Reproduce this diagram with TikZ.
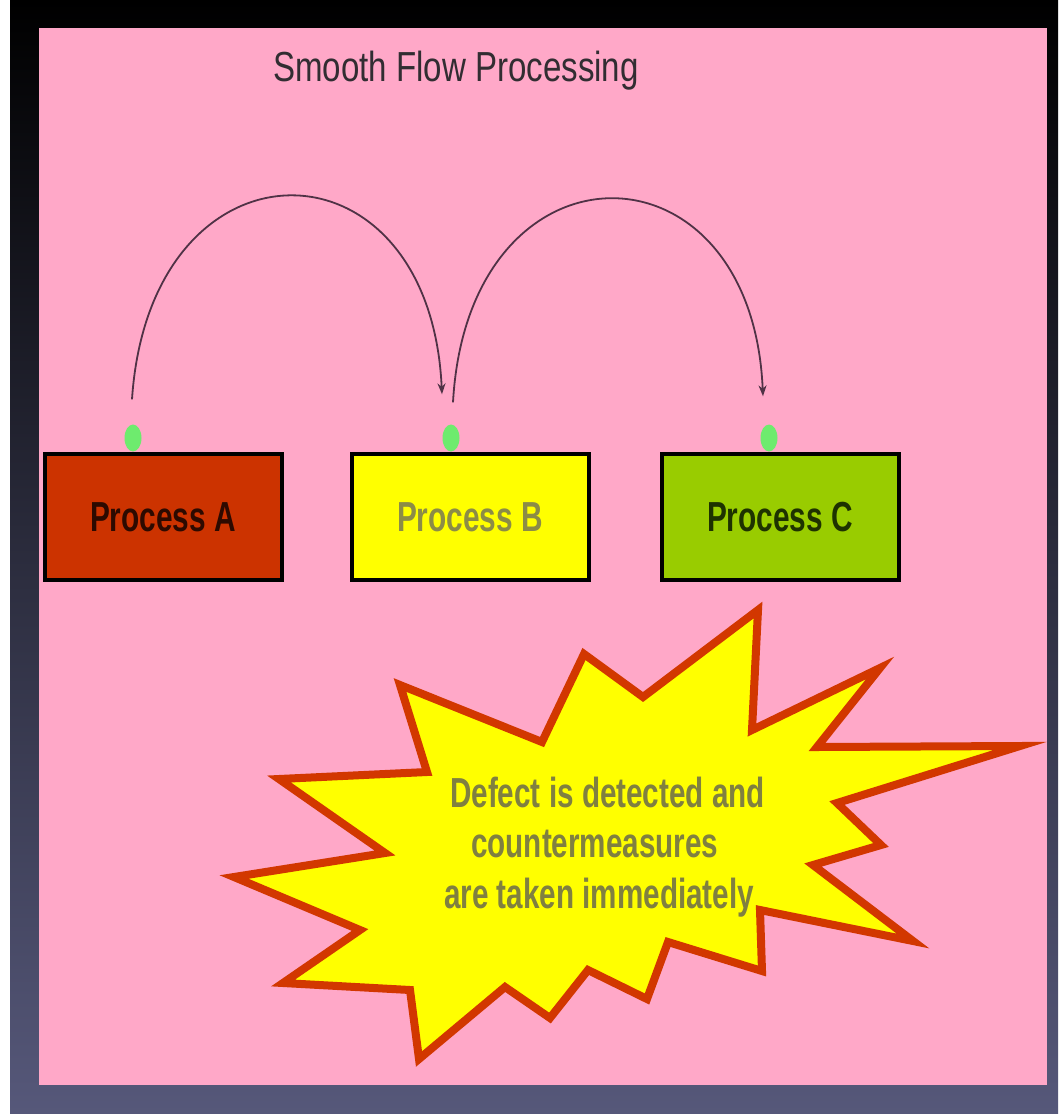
\documentclass[tikz,border=0pt]{standalone}
\usepackage{fontspec}
\setmainfont{Liberation Sans}
\usetikzlibrary{arrows.meta,calc,shapes.geometric}
\definecolor{pinkbg}{RGB}{255,168,200}
\definecolor{frameblue}{RGB}{86,88,122}
\definecolor{boxA}{RGB}{204,51,0}
\definecolor{boxB}{RGB}{255,255,0}
\definecolor{boxC}{RGB}{153,204,0}
\definecolor{txtA}{RGB}{45,10,0}
\definecolor{txtB}{RGB}{140,140,70}
\definecolor{txtC}{RGB}{30,50,0}
\definecolor{dotgreen}{RGB}{110,235,110}
\definecolor{arccol}{RGB}{80,50,70}
\definecolor{burstred}{RGB}{210,55,0}
\definecolor{bursttxt}{RGB}{128,128,64}
\definecolor{titlecol}{RGB}{50,45,50}
\tikzset{
  procbox/.style={draw=black, line width=4pt, minimum width=237pt, minimum height=126pt, inner sep=0pt},
  greendot/.style={ellipse, fill=dotgreen, draw=none, minimum width=17pt, minimum height=27pt, inner sep=0pt},
  flowarc/.style={draw=arccol, line width=1.8pt, -{Stealth[length=11pt,width=8pt]}},
  burst/.style={fill=boxB, draw=burstred, line width=8pt, line join=miter, miter limit=20},
  bigtxt/.style={inner sep=0pt, anchor=base west, font=\fontsize{42}{50}\selectfont},
}
\begin{document}
\begin{tikzpicture}[x=1pt,y=-1pt]
\useasboundingbox (0,0) rectangle (1058,1114);
\fill[white] (0,0) rectangle (10,1114);
\shade[top color=black, middle color=black!90!frameblue, bottom color=frameblue] (10,0) rectangle (1058,1114);
\fill[pinkbg] (39,28) rectangle (1047,1085);

\node[bigtxt, text=titlecol] (title) at (273,81) {\scalebox{0.787}[1]{Smooth Flow Processing}};

\node[greendot] (dA) at (133,438) {};
\node[greendot] (dB) at (451,438) {};
\node[greendot] (dC) at (769,438) {};

\node[procbox, fill=boxA, text=txtA, font=\fontsize{42}{50}\selectfont\bfseries] (A) at (163,517) {\scalebox{0.71}[1]{Process A}};
\node[procbox, fill=boxB, text=txtB, font=\fontsize{42}{50}\selectfont\bfseries] (B) at (470,517) {\scalebox{0.71}[1]{Process B}};
\node[procbox, fill=boxC, text=txtC, font=\fontsize{42}{50}\selectfont\bfseries] (C) at (780,517) {\scalebox{0.71}[1]{Process C}};

\coordinate (s1) at ($(dA.north)+(-1,-25)$);
\coordinate (t1) at ($(dB.north)+(-9,-30)$);
\coordinate (s2) at ($(dB.north)+(2,-22)$);
\coordinate (t2) at ($(dC.north)+(-6,-28)$);
\draw[flowarc] (s1) .. controls +(18,-270) and +(-12,-265) .. (t1);
\draw[flowarc] (s2) .. controls +(15,-270) and +(-11,-264) .. (t2);

\filldraw[burst] (758,610) -- (752,730) -- (880,668) -- (817,747) -- (1020,746) -- (837,803)
  -- (881,845) -- (813,865) -- (913,941) -- (760,910) -- (762,971) -- (668,942)
  -- (647,999) -- (588,970) -- (550,1018) -- (505,987) -- (419,1059) -- (410,990)
  -- (283,983) -- (360,930) -- (234,877) -- (385,853) -- (279,779) -- (427,772)
  -- (400,685) -- (542,742) -- (584,654) -- (643,697) -- cycle;

\node[bigtxt, text=bursttxt, font=\fontsize{42}{50}\selectfont\bfseries] (l1) at (450,807) {\scalebox{0.706}[1]{Defect is detected and}};
\node[bigtxt, text=bursttxt, font=\fontsize{42}{50}\selectfont\bfseries] (l2) at (471,857) {\scalebox{0.706}[1]{countermeasures}};
\node[bigtxt, text=bursttxt, font=\fontsize{42}{50}\selectfont\bfseries] (l3) at (444,908) {\scalebox{0.706}[1]{are taken immediately}};
\end{tikzpicture}
\end{document}
